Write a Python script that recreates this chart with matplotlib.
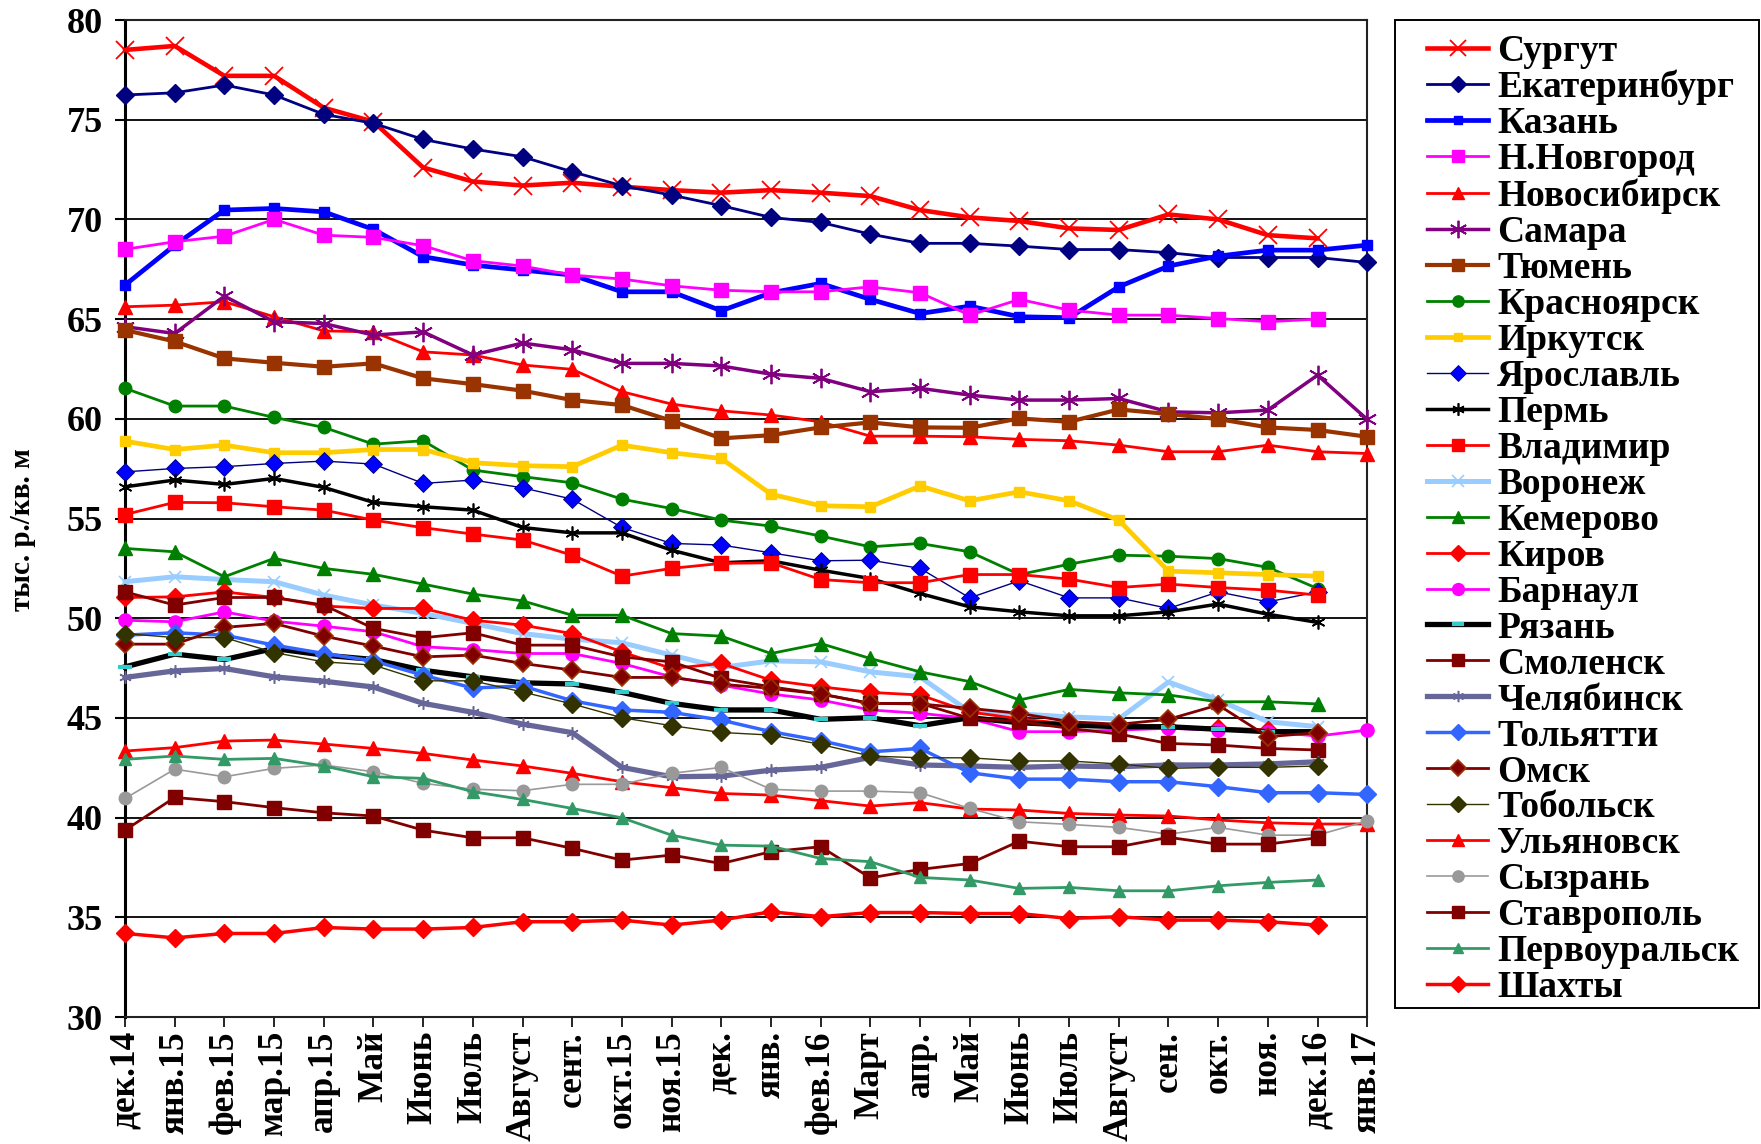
import numpy as np
import matplotlib
matplotlib.use('Agg')
import matplotlib.pyplot as plt
from matplotlib.patches import Rectangle

months = ['дек.14', 'янв.15', 'фев.15', 'мар.15', 'апр.15', 'Май', 'Июнь', 'Июль',
          'Август', 'сент.', 'окт.15', 'ноя.15', 'дек.', 'янв.', 'фев.16', 'Март',
          'апр.', 'Май', 'Июнь', 'Июль', 'Август', 'сен.', 'окт.', 'ноя.', 'дек.16', 'янв.17']

surgut = [78.5, 78.7, 77.2, 77.2, 75.6, 74.9, 72.6, 71.9, 71.7, 71.84, 71.64, 71.47, 71.34,
          71.47, 71.34, 71.17, 70.47, 70.1, 69.92, 69.55, 69.47, 70.25, 70.0, 69.21, 69.05]
ekb = [76.24, 76.35, 76.74, 76.24, 75.27, 74.82, 74.01, 73.53, 73.14, 72.39, 71.69, 71.22, 70.69,
       70.1, 69.85, 69.26, 68.8, 68.8, 68.66, 68.49, 68.49, 68.33, 68.09, 68.09, 68.09, 67.84]
kazan = [66.71, 68.71, 70.47, 70.55, 70.38, 69.5, 68.13, 67.71, 67.46, 67.21, 66.37, 66.37, 65.42,
         66.32, 66.79, 65.99, 65.28, 65.65, 65.12, 65.07, 66.62, 67.66, 68.16, 68.46, 68.46, 68.71]
nnov = [68.5, 68.88, 69.16, 70.0, 69.21, 69.1, 68.68, 67.93, 67.66, 67.21, 67.01, 66.67, 66.45,
        66.37, 66.37, 66.62, 66.32, 65.2, 65.99, 65.45, 65.2, 65.2, 65.03, 64.87, 65.0]
novosib = [65.62, 65.7, 65.87, 65.12, 64.41, 64.36, 63.36, 63.2, 62.7, 62.48, 61.36, 60.74, 60.4,
           60.19, 59.85, 59.13, 59.13, 59.1, 58.97, 58.9, 58.68, 58.35, 58.35, 58.68, 58.35, 58.26]
samara = [64.62, 64.28, 66.15, 64.87, 64.78, 64.2, 64.36, 63.2, 63.8, 63.46, 62.78, 62.78, 62.65,
          62.24, 62.03, 61.36, 61.53, 61.19, 60.94, 60.94, 61.02, 60.35, 60.3, 60.44, 62.19, 59.97]
tyumen = [64.45, 63.88, 63.03, 62.81, 62.61, 62.78, 62.03, 61.74, 61.41, 60.94, 60.69, 59.9, 59.02,
          59.18, 59.57, 59.82, 59.57, 59.55, 60.02, 59.85, 60.47, 60.24, 59.99, 59.57, 59.44, 59.1]
krasn = [61.53, 60.64, 60.64, 60.07, 59.57, 58.73, 58.9, 57.43, 57.1, 56.79, 55.97, 55.5, 54.92,
         54.62, 54.12, 53.58, 53.75, 53.33, 52.19, 52.71, 53.16, 53.11, 52.99, 52.55, 51.49]
irkutsk = [58.88, 58.46, 58.68, 58.3, 58.3, 58.46, 58.46, 57.8, 57.65, 57.6, 58.68, 58.3, 58.01,
           56.22, 55.64, 55.59, 56.63, 55.89, 56.34, 55.89, 54.92, 52.36, 52.28, 52.19, 52.11]
yarosl = [57.34, 57.51, 57.6, 57.76, 57.88, 57.73, 56.76, 56.93, 56.54, 55.97, 54.55, 53.75, 53.67,
          53.28, 52.88, 52.91, 52.5, 51.02, 51.88, 51.02, 51.02, 50.49, 51.32, 50.82, 51.32]
perm = [56.59, 56.93, 56.71, 57.01, 56.56, 55.81, 55.59, 55.42, 54.55, 54.28, 54.28, 53.41, 52.78,
        52.88, 52.41, 51.99, 51.24, 50.57, 50.32, 50.12, 50.12, 50.32, 50.71, 50.2, 49.79]
vladimir = [55.2, 55.81, 55.79, 55.59, 55.42, 54.92, 54.54, 54.22, 53.92, 53.16, 52.11, 52.5, 52.75,
            52.78, 51.94, 51.78, 51.78, 52.19, 52.19, 51.96, 51.54, 51.71, 51.54, 51.41, 51.16]
voronezh = [51.83, 52.08, 51.94, 51.83, 51.16, 50.66, 50.24, 49.74, 49.23, 48.95, 48.77, 48.15, 47.53,
            47.86, 47.81, 47.31, 47.06, 45.3, 45.2, 45.05, 44.95, 46.8, 45.9, 44.81, 44.56]
kemerovo = [53.5, 53.33, 52.08, 53.0, 52.5, 52.2, 51.71, 51.21, 50.87, 50.15, 50.15, 49.23, 49.1,
            48.23, 48.73, 47.98, 47.31, 46.82, 45.9, 46.43, 46.26, 46.15, 45.81, 45.81, 45.7]
kirov = [51.04, 51.07, 51.32, 51.04, 50.61, 50.49, 50.49, 49.9, 49.65, 49.23, 48.31, 47.48, 47.73,
         46.89, 46.56, 46.28, 46.15, 45.3, 44.95, 44.7, 44.55, 44.55, 44.5, 44.4, 44.2]
barnaul = [49.9, 49.82, 50.32, 49.85, 49.6, 49.32, 48.57, 48.43, 48.23, 48.23, 47.73, 47.06, 46.64,
           46.2, 45.9, 45.4, 45.23, 44.98, 44.31, 44.31, 44.39, 44.48, 44.39, 44.31, 44.09, 44.39]
ryazan = [47.56, 48.2, 47.93, 48.48, 48.15, 47.93, 47.39, 47.06, 46.76, 46.7, 46.28, 45.73, 45.4,
          45.4, 44.93, 45.01, 44.61, 45.01, 44.76, 44.64, 44.56, 44.56, 44.43, 44.31, 44.31]
smolensk = [51.32, 50.66, 51.04, 51.04, 50.66, 49.49, 49.02, 49.27, 48.65, 48.65, 48.06, 47.81, 46.98,
            46.56, 46.2, 45.73, 45.73, 44.98, 44.81, 44.48, 44.19, 43.72, 43.64, 43.47, 43.39]
chelyab = [47.03, 47.36, 47.48, 47.06, 46.84, 46.55, 45.73, 45.28, 44.69, 44.26, 42.52, 42.05, 42.08,
           42.38, 42.52, 43.02, 42.64, 42.59, 42.52, 42.59, 42.55, 42.64, 42.64, 42.69, 42.8]
tolyatti = [49.15, 49.27, 49.15, 48.65, 48.23, 47.86, 47.14, 46.5, 46.6, 45.86, 45.4, 45.28, 44.89,
            44.31, 43.86, 43.3, 43.47, 42.25, 41.93, 41.93, 41.8, 41.8, 41.55, 41.25, 41.25, 41.16]
omsk = [48.7, 48.7, 49.54, 49.74, 49.1, 48.6, 48.06, 48.15, 47.73, 47.4, 47.03, 47.03, 46.69,
        46.48, 46.2, 45.73, 45.7, 45.48, 45.23, 44.81, 44.68, 44.93, 45.65, 44.06, 44.26]
tobolsk = [49.23, 49.03, 49.03, 48.28, 47.81, 47.65, 46.86, 46.86, 46.3, 45.7, 45.01, 44.61, 44.27,
           44.14, 43.67, 43.09, 43.0, 43.0, 42.84, 42.84, 42.69, 42.47, 42.52, 42.52, 42.59]
ulyanovsk = [43.34, 43.51, 43.84, 43.89, 43.69, 43.47, 43.22, 42.89, 42.59, 42.22, 41.8, 41.5, 41.21,
             41.13, 40.85, 40.58, 40.75, 40.43, 40.38, 40.21, 40.13, 40.08, 39.88, 39.74, 39.68, 39.68]
syzran = [40.96, 42.43, 42.05, 42.47, 42.64, 42.3, 41.72, 41.42, 41.35, 41.67, 41.67, 42.22, 42.52,
          41.42, 41.33, 41.33, 41.25, 40.46, 39.79, 39.66, 39.51, 39.17, 39.51, 39.12, 39.12, 39.83]
stavropol = [39.37, 41.01, 40.8, 40.5, 40.24, 40.08, 39.37, 38.99, 38.99, 38.46, 37.87, 38.12, 37.7,
             38.29, 38.54, 36.98, 37.4, 37.7, 38.82, 38.54, 38.54, 39.01, 38.67, 38.67, 38.99]
pervour = [42.92, 43.09, 42.92, 42.97, 42.59, 42.05, 41.97, 41.3, 40.91, 40.46, 39.99, 39.12, 38.62,
           38.57, 37.95, 37.79, 37.0, 36.87, 36.45, 36.5, 36.33, 36.33, 36.58, 36.75, 36.87]
shakhty = [34.19, 33.97, 34.19, 34.19, 34.49, 34.41, 34.41, 34.49, 34.78, 34.78, 34.86, 34.61, 34.86,
           35.28, 35.03, 35.24, 35.24, 35.19, 35.19, 34.94, 35.03, 34.86, 34.86, 34.78, 34.61]

ast = (6, 2, 0)
# name, data, line color, lw, marker, ms, face, edge, mew
series = [
    ('Сургут', surgut, '#FF0000', 3.3, 'x', 13, '#FF0000', '#FF0000', 1.3),
    ('Екатеринбург', ekb, '#000080', 2.0, 'D', 9, '#000080', '#000080', 1),
    ('Казань', kazan, '#0000FF', 3.4, 's', 7, '#0000FF', '#0000FF', 1),
    ('Н.Новгород', nnov, '#FF00FF', 2.0, 's', 10, '#FF00FF', '#FF00FF', 1),
    ('Новосибирск', novosib, '#FF0000', 2.0, '^', 9.5, '#FF0000', '#FF0000', 1),
    ('Самара', samara, '#800080', 2.5, ast, 14, '#800080', '#800080', 1.3),
    ('Тюмень', tyumen, '#993300', 3.0, 's', 9.5, '#993300', '#993300', 1),
    ('Красноярск', krasn, '#008000', 2.0, 'o', 9, '#008000', '#008000', 1),
    ('Иркутск', irkutsk, '#FFCC00', 3.4, 's', 7, '#FFCC00', '#FFCC00', 1),
    ('Ярославль', yarosl, '#000080', 1.0, 'D', 9, '#0000FF', '#000080', 0.6),
    ('Пермь', perm, '#000000', 2.5, ast, 10, '#000000', '#000000', 1.2),
    ('Владимир', vladimir, '#FF0000', 2.0, 's', 9.5, '#FF0000', '#FF0000', 1),
    ('Воронеж', voronezh, '#99CCFF', 3.6, 'x', 9, '#99CCFF', '#99CCFF', 1.2),
    ('Кемерово', kemerovo, '#008000', 2.0, '^', 9.5, '#008000', '#008000', 1),
    ('Киров', kirov, '#FF0000', 2.0, 'D', 9, '#FF0000', '#FF0000', 1),
    ('Барнаул', barnaul, '#FF00FF', 2.0, 'o', 9.5, '#FF00FF', '#FF00FF', 1),
    ('Рязань', ryazan, '#000000', 3.8, '_', 10, '#33CCCC', '#33CCCC', 3),
    ('Смоленск', smolensk, '#800000', 2.0, 's', 9.5, '#800000', '#800000', 1),
    ('Челябинск', chelyab, '#666699', 3.8, ast, 9, '#666699', '#666699', 1.1),
    ('Тольятти', tolyatti, '#3366FF', 2.5, 'D', 9, '#3366FF', '#3366FF', 1),
    ('Омск', omsk, '#800000', 2.0, 'D', 9, '#800000', '#993300', 1.2),
    ('Тобольск', tobolsk, '#333300', 1.0, 'D', 9, '#333300', '#333300', 1),
    ('Ульяновск', ulyanovsk, '#FF0000', 2.0, '^', 9.5, '#FF0000', '#FF0000', 1),
    ('Сызрань', syzran, '#999999', 1.2, 'o', 9, '#999999', '#999999', 1),
    ('Ставрополь', stavropol, '#800000', 2.0, 's', 9.5, '#800000', '#800000', 1),
    ('Первоуральск', pervour, '#339966', 2.0, '^', 8, '#339966', '#339966', 1),
    ('Шахты', shakhty, '#FF0000', 2.5, 'D', 9, '#FF0000', '#FF0000', 1),
]

plt.rcParams['font.family'] = ['Liberation Serif', 'DejaVu Serif']
plt.rcParams['font.weight'] = 'bold'

W, H = 1761, 1144
fig = plt.figure(figsize=(W / 100, H / 100), dpi=100)
ax = fig.add_axes([0.071, 0.111, 0.7054, 0.8715])

for i, (name, data, col, lw, mk, ms, mfc, mec, mew) in enumerate(series):
    xs = np.arange(len(data))
    ax.plot(xs, data, color=col, lw=lw, marker=mk, ms=ms, mfc=mfc, mec=mec, mew=mew,
            label=name, zorder=3 + i * 0.01, clip_on=False)

ax.set_xlim(0, len(months) - 1)
ax.set_ylim(30, 80)
ax.set_yticks(np.arange(30, 81, 5))
ax.set_xticks(np.arange(len(months)))
ax.set_xticklabels(months, rotation=90, fontsize=25.5, fontweight='bold')
ax.tick_params(axis='y', labelsize=26, direction='out', length=7, width=1.5, pad=9)
ax.tick_params(axis='x', direction='out', length=7, width=1.2, pad=3)
for lab in ax.get_yticklabels():
    lab.set_fontweight('bold')
ax.yaxis.grid(True, color='black', lw=1.3, zorder=1)
ax.set_axisbelow(True)
for s in ax.spines.values():
    s.set_linewidth(1.5)
    s.set_color('#222222')
ax.spines['left'].set_linewidth(2.2)
ax.spines['left'].set_color('black')

fig.text(0.013, 0.537, 'тыс. р./кв. м', rotation=90, ha='center', va='center',
         fontsize=21, fontweight='bold')

# legend frame drawn separately
fig.patches.append(Rectangle((1395 / W, 1 - 1008 / H), (1759 - 1395) / W, (1008 - 20) / H,
                             transform=fig.transFigure, fill=False, edgecolor='black',
                             lw=1.4, zorder=5))
leg = fig.legend(loc='upper left', bbox_to_anchor=(1427 / W, 1 - 34 / H),
                 labelspacing=0.026, handlelength=1.63, handletextpad=0.24,
                 borderpad=0, borderaxespad=0, frameon=False, markerscale=0.9,
                 prop={'weight': 'bold', 'size': 27})

fig.savefig('out.png', dpi=100, facecolor='white')
